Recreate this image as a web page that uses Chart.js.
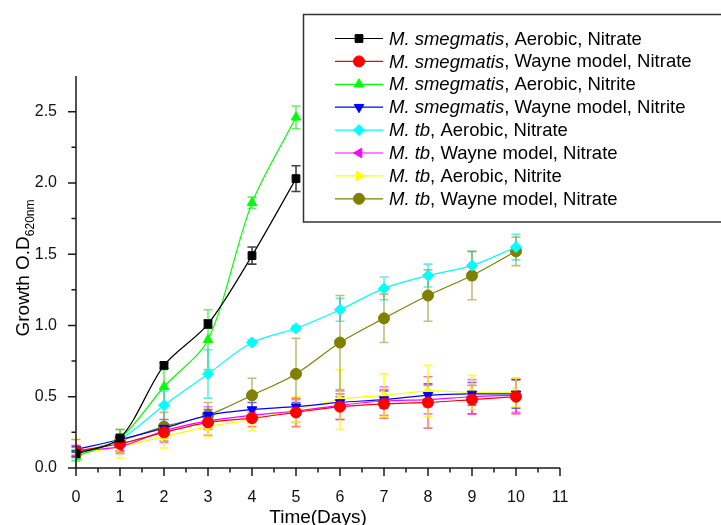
<!DOCTYPE html>
<html>
<head>
<meta charset="utf-8">
<script src="https://cdn.jsdelivr.net/npm/chart.js@4.4.1/dist/chart.umd.min.js"></script>
<style>
  html, body { margin: 0; padding: 0; background: #fff; }
</style>
</head>
<body>
<canvas id="myChart" width="721" height="525"></canvas>
<script>
// Days of sampling
const days = [0, 1, 2, 3, 4, 5, 6, 7, 8, 9, 10];

// Growth O.D 620nm
const smegAerobicNitrate = [0.10, 0.21, 0.72, 1.01, 1.49, 2.03];
const smegWayneNitrate   = [0.12, 0.17, 0.25, 0.32, 0.35, 0.39, 0.43, 0.45, 0.46, 0.48, 0.50];
const smegAerobicNitrite = [0.08, 0.21, 0.57, 0.90, 1.86, 2.46];
const smegWayneNitrite   = [0.13, 0.20, 0.28, 0.37, 0.41, 0.43, 0.46, 0.48, 0.51, 0.52, 0.52];
const tbAerobicNitrate   = [0.10, 0.20, 0.44, 0.66, 0.88, 0.98, 1.11, 1.26, 1.35, 1.42, 1.55];
const tbWayneNitrate     = [0.12, 0.15, 0.26, 0.33, 0.37, 0.40, 0.44, 0.47, 0.48, 0.50, 0.51];
const tbAerobicNitrite   = [0.10, 0.15, 0.22, 0.29, 0.34, 0.41, 0.48, 0.51, 0.54, 0.53, 0.53];
const tbWayneNitrate2    = [0.10, 0.19, 0.29, 0.37, 0.51, 0.66, 0.88, 1.05, 1.21, 1.35, 1.52];

// Standard deviations (error bars)
const errSmegAerobicNitrate = [0.02, 0.02, 0.02, 0.03, 0.06, 0.09];
const errSmegWayneNitrate   = [0.03, 0.05, 0.04, 0.05, 0.06, 0.10, 0.09, 0.10, 0.18, 0.10, 0.12];
const errSmegAerobicNitrite = [0.03, 0.06, 0.12, 0.21, 0.04, 0.08];
const errSmegWayneNitrite   = [0.02, 0.03, 0.03, 0.04, 0.05, 0.03, 0.04, 0.06, 0.08, 0.08, 0.10];
const errTbAerobicNitrate   = [0.03, 0.04, 0.10, 0.17, 0.02, 0.02, 0.08, 0.08, 0.08, 0.10, 0.09];
const errTbWayneNitrate     = [0.04, 0.05, 0.08, 0.10, 0.05, 0.08, 0.10, 0.10, 0.10, 0.12, 0.12];
const errTbAerobicNitrite   = [0.10, 0.08, 0.08, 0.07, 0.08, 0.09, 0.21, 0.15, 0.18, 0.12, 0.10];
const errTbWayneNitrate2    = [0.10, 0.08, 0.10, 0.09, 0.12, 0.25, 0.33, 0.17, 0.18, 0.17, 0.10];

// Legend text: italic species part + plain condition part
const speciesLabels = ['M. smegmatis', 'M. smegmatis', 'M. smegmatis', 'M. smegmatis', 'M. tb', 'M. tb', 'M. tb', 'M. tb'];
const conditionLabels = [', Aerobic, Nitrate', ', Wayne model, Nitrate', ', Aerobic, Nitrite', ', Wayne model, Nitrite',
                         ', Aerobic, Nitrate', ', Wayne model, Nitrate', ', Aerobic, Nitrite', ', Wayne model, Nitrate'];

// Y tick labels every 0.5, minor ticks every 0.25
const yMax = 2.75;
const xMax = 11;

const seriesValues = [smegAerobicNitrate, smegWayneNitrate, smegAerobicNitrite, smegWayneNitrite,
                      tbAerobicNitrate, tbWayneNitrate, tbAerobicNitrite, tbWayneNitrate2];
const seriesErrors = [errSmegAerobicNitrate, errSmegWayneNitrate, errSmegAerobicNitrite, errSmegWayneNitrite,
                      errTbAerobicNitrate, errTbWayneNitrate, errTbAerobicNitrite, errTbWayneNitrate2];

// styles
const colors = ['#000000', '#ff0000', '#00ff00', '#0000ff', '#00ffff', '#ff00ff', '#ffff00', '#808000'];
const errColors = ['rgba(0,0,0,0.75)', 'rgba(255,0,0,0.5)', 'rgba(0,230,0,0.6)', 'rgba(0,0,255,0.6)',
                   'rgba(0,220,220,0.6)', 'rgba(255,0,255,0.55)', 'rgba(255,255,0,0.8)', 'rgba(128,128,0,0.5)'];
const pointStyles = ['rect', 'circle', 'triangle', 'triangle', 'rectRot', 'triangle', 'triangle', 'circle'];
const rotations = [0, 0, 0, 180, 0, -90, 90, 0];

const FONT = '"Liberation Sans", Arial, sans-serif';

const datasets = seriesValues.map((vals, i) => ({
    label: speciesLabels[i] + conditionLabels[i],
    data: vals.map((v, j) => ({ x: days[j], y: v })),
    borderColor: colors[i],
    backgroundColor: colors[i],
    borderWidth: 1.2,
    pointStyle: pointStyles[i],
    pointRotation: rotations[i],
    pointRadius: 5.5,
    pointBorderWidth: 1,
    tension: 0.3,
    fill: false
}));

// Draws error bars, axis tick marks, axis titles and the legend box
const decor = {
    id: 'decor',
    beforeDatasetsDraw(chart) {
        const ctx = chart.ctx;
        const xs = chart.scales.x, ys = chart.scales.y;
        seriesValues.forEach((vals, i) => {
            ctx.save();
            ctx.strokeStyle = errColors[i];
            ctx.lineWidth = 1.6;
            vals.forEach((v, j) => {
                const e = seriesErrors[i][j];
                const px = xs.getPixelForValue(days[j]);
                const top = ys.getPixelForValue(v + e);
                const bot = ys.getPixelForValue(Math.max(v - e, 0));
                ctx.beginPath();
                ctx.moveTo(px, top); ctx.lineTo(px, bot);
                ctx.moveTo(px - 4.5, top); ctx.lineTo(px + 4.5, top);
                if (v - e > 0) { ctx.moveTo(px - 4.5, bot); ctx.lineTo(px + 4.5, bot); }
                ctx.stroke();
            });
            ctx.restore();
        });
    },
    afterDraw(chart) {
        const ctx = chart.ctx;
        const xs = chart.scales.x, ys = chart.scales.y;
        const area = chart.chartArea;
        ctx.save();
        ctx.strokeStyle = '#1a1a1a';
        ctx.lineWidth = 1.5;
        // axis lines
        ctx.beginPath();
        ctx.moveTo(area.left, area.top);
        ctx.lineTo(area.left, area.bottom);
        ctx.lineTo(area.right, area.bottom);
        ctx.stroke();
        // y ticks (major at labelled values)
        ctx.beginPath();
        ys.ticks.forEach(t => {
            const py = ys.getPixelForValue(t.value);
            const major = Math.abs(t.value * 2 - Math.round(t.value * 2)) < 1e-6;
            if (t.value >= yMax - 1e-6) return;
            ctx.moveTo(area.left, py);
            ctx.lineTo(area.left - (major ? 8 : 4.5), py);
        });
        // x ticks, minor at half days
        xs.ticks.forEach((t, k) => {
            const px = xs.getPixelForValue(t.value);
            ctx.moveTo(px, area.bottom);
            ctx.lineTo(px, area.bottom + 8);
            if (k < xs.ticks.length - 1) {
                const mx = xs.getPixelForValue((t.value + xs.ticks[k + 1].value) / 2);
                ctx.moveTo(mx, area.bottom);
                ctx.lineTo(mx, area.bottom + 4.5);
            }
        });
        ctx.stroke();

        // axis titles
        ctx.fillStyle = '#000';
        ctx.textBaseline = 'alphabetic';
        ctx.font = '19px ' + FONT;
        ctx.textAlign = 'center';
        ctx.fillText('Time(Days)', (area.left + area.right) / 2, 523);

        ctx.save();
        ctx.translate(29, 268);
        ctx.rotate(-Math.PI / 2);
        ctx.textAlign = 'left';
        const main = 'Growth O.D';
        const sub = '620nm';
        ctx.font = '19px ' + FONT;
        const wMain = ctx.measureText(main).width;
        ctx.font = '12px ' + FONT;
        const wSub = ctx.measureText(sub).width;
        const start = -(wMain + wSub) / 2;
        ctx.font = '19px ' + FONT;
        ctx.fillText(main, start, 0);
        ctx.font = '12px ' + FONT;
        ctx.fillText(sub, start + wMain, 5);
        ctx.restore();

        // legend box
        ctx.fillStyle = '#fff';
        ctx.fillRect(303, 14, 430, 208);
        ctx.strokeStyle = '#333';
        ctx.lineWidth = 1.5;
        ctx.strokeRect(303.5, 14.5, 430, 207.5);
        speciesLabels.forEach((sp, i) => {
            const cy = 38.5 + i * 22.9;
            ctx.strokeStyle = colors[i];
            ctx.fillStyle = colors[i];
            ctx.lineWidth = 1.2;
            ctx.beginPath();
            ctx.moveTo(335, cy); ctx.lineTo(383, cy);
            ctx.stroke();
            ctx.lineWidth = 1;
            Chart.helpers.drawPoint(ctx, { pointStyle: pointStyles[i], rotation: rotations[i], radius: 5.5, borderWidth: 1 }, 359, cy);
            ctx.fillStyle = '#000';
            ctx.textAlign = 'left';
            ctx.textBaseline = 'middle';
            ctx.font = 'italic 18.5px ' + FONT;
            ctx.fillText(sp, 389, cy + 1);
            const w = ctx.measureText(sp).width;
            ctx.font = '18.5px ' + FONT;
            ctx.fillText(conditionLabels[i], 389 + w, cy + 1);
        });
        ctx.restore();
    }
};

const ctx = document.getElementById('myChart').getContext('2d');
const myChart = new Chart(ctx, {
    type: 'line',
    data: { datasets: datasets },
    options: {
        responsive: false,
        animation: false,
        layout: { padding: { top: 76, right: 161, left: 0, bottom: 0 } },
        plugins: {
            legend: { display: false },
            tooltip: { enabled: false }
        },
        scales: {
            x: {
                type: 'linear',
                min: 0,
                max: xMax,
                afterFit: s => { s.height = 57; },
                grid: { display: false },
                border: { display: false },
                ticks: {
                    stepSize: 1,
                    autoSkip: false,
                    maxRotation: 0,
                    padding: 12,
                    color: '#111',
                    font: { family: FONT, size: 16 }
                }
            },
            y: {
                min: 0,
                max: yMax,
                afterFit: s => { s.width = 76; },
                grid: { display: false },
                border: { display: false },
                ticks: {
                    stepSize: 0.25,
                    autoSkip: false,
                    padding: 11,
                    color: '#111',
                    font: { family: FONT, size: 16 },
                    callback: v => (Math.abs(v * 2 - Math.round(v * 2)) < 1e-6 ? v.toFixed(1) : '')
                }
            }
        }
    },
    plugins: [decor]
});
</script>
</body>
</html>
